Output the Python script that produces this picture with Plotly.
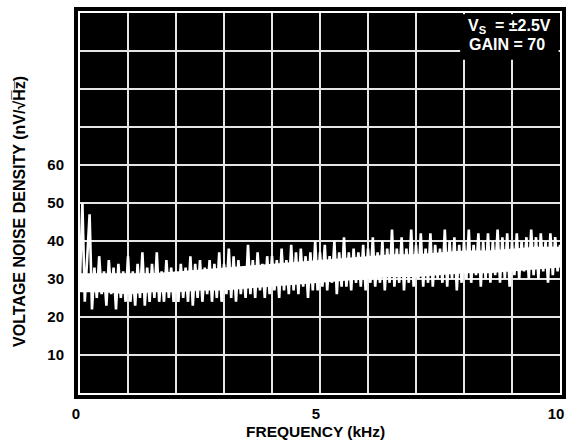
import plotly.graph_objects as go

# ---- data ----
# noise trace sampled every 0.05 kHz (0 .. 10 kHz), values in nV/sqrt(Hz)
noise_nv = [
    30, 50, 24, 35, 47, 22, 33, 25, 36, 26,
    32, 23, 35, 26, 33, 22, 34, 25, 32, 24,
    36, 24, 32, 23, 34, 25, 37, 23, 33, 24,
    34, 25, 37, 24, 32, 24, 35, 25, 33, 24,
    32, 24, 34, 25, 33, 24, 36, 23, 34, 25,
    35, 24, 33, 26, 35, 24, 34, 25, 37, 24,
    34, 26, 38, 25, 36, 24, 35, 26, 33, 25,
    39, 26, 35, 25, 37, 27, 34, 25, 36, 26,
    36, 27, 35, 25, 38, 27, 35, 26, 39, 27,
    37, 26, 38, 28, 36, 25, 37, 27, 40, 27,
    37, 28, 39, 27, 36, 29, 40, 26, 37, 28,
    41, 28, 37, 27, 38, 29, 37, 28, 39, 27,
    38, 29, 41, 28, 37, 29, 40, 27, 38, 29,
    43, 28, 38, 29, 41, 27, 38, 29, 43, 28,
    39, 30, 42, 28, 38, 29, 42, 28, 39, 30,
    38, 29, 43, 28, 40, 30, 41, 27, 39, 29,
    40, 30, 43, 29, 39, 31, 42, 28, 40, 30,
    42, 29, 40, 31, 43, 29, 41, 30, 42, 28,
    40, 31, 42, 30, 40, 32, 41, 30, 43, 31,
    41, 30, 42, 32, 40, 29, 42, 31, 41, 32,
    39,
]
freq_khz = [round(i * 0.05, 2) for i in range(len(noise_nv))]

# solid core of the noise band (0.5 kHz steps)
core_freq = [0, 0.5, 1, 1.5, 2, 2.5, 3, 3.5, 4, 4.5, 5,
             5.5, 6, 6.5, 7, 7.5, 8, 8.5, 9, 9.5, 10]
core_lo = [26.5, 26.5, 26, 26.5, 26.5, 27, 27, 27.5, 28, 28.5, 29,
           29.5, 30, 30.5, 30.5, 31, 31.5, 31.5, 32, 32.5, 33]
core_hi = [31.5, 31.5, 31.5, 31.5, 32, 32.5, 33, 33.5, 34, 34.5, 35,
           35.5, 36, 36.5, 36.5, 37, 37.5, 37.5, 38, 38.5, 38.5]

x_labels = [0, 5, 10]
y_labels = [10, 20, 30, 40, 50, 60]
x_grid_step = 1
y_grid_step = 10

FONT = "Liberation Sans, Arial, Helvetica, sans-serif"
W, H = 582, 443
ML, MR, MT, MB = 80, 22, 11, 50
PW, PH = W - ML - MR, H - MT - MB

fig = go.Figure()
fig.add_trace(go.Scatter(x=core_freq, y=core_lo, mode="lines",
                         line=dict(color="white", width=0), hoverinfo="skip",
                         showlegend=False))
fig.add_trace(go.Scatter(x=core_freq, y=core_hi, mode="lines",
                         line=dict(color="white", width=0), fill="tonexty",
                         fillcolor="white", hoverinfo="skip", showlegend=False))
fig.add_trace(go.Scatter(x=freq_khz, y=noise_nv, mode="lines",
                         line=dict(color="white", width=2.6), showlegend=False))

GRID = "#e6e6e6"
axis_common = dict(
    showgrid=True, gridcolor=GRID, gridwidth=1.5,
    showline=True, linecolor="white", linewidth=2, mirror=True,
    zeroline=False, ticks="",
    tickfont=dict(family=FONT, size=15, color="black", weight="bold"),
)

fig.update_layout(
    width=W, height=H,
    margin=dict(l=ML, r=MR, t=MT, b=MB),
    paper_bgcolor="white", plot_bgcolor="black",
    xaxis=dict(range=[0, 10], tickmode="array", tickvals=x_labels,
               ticklabelstandoff=6, ticklabelshift=-4,
               minor=dict(tickmode="linear", tick0=0, dtick=x_grid_step,
                          showgrid=True, gridcolor=GRID, gridwidth=1.5, ticks=""),
               **axis_common),
    yaxis=dict(range=[0, 100], tickmode="array", tickvals=y_labels,
               ticklabelstandoff=11,
               minor=dict(tickmode="linear", tick0=0, dtick=y_grid_step,
                          showgrid=True, gridcolor=GRID, gridwidth=1.5, ticks=""),
               **axis_common),
    shapes=[
        # outer black frame
        dict(type="rect", xref="paper", yref="paper",
             x0=-4 / PW, x1=1 + 4 / PW, y0=-4 / PH, y1=1 + 4 / PH,
             line=dict(color="black", width=4), fillcolor="rgba(0,0,0,0)",
             layer="below"),
        # black box behind the condition text
        dict(type="rect", xref="x", yref="y", x0=7.92, x1=9.97, y0=87.7, y1=99.7,
             line=dict(width=0), fillcolor="black", layer="above"),
    ],
    annotations=[
        dict(text="V<sub>S</sub>  = ±2.5V", xref="paper", yref="paper",
             x=(466 - ML) / PW, y=1 - (25 - MT) / PH, xanchor="left",
             yanchor="middle", align="left", showarrow=False,
             font=dict(family=FONT, size=16, color="white", weight="bold")),
        dict(text="GAIN = 70", xref="paper", yref="paper",
             x=(467 - ML) / PW, y=1 - (43 - MT) / PH, xanchor="left",
             yanchor="middle", align="left", showarrow=False,
             font=dict(family=FONT, size=16, color="white", weight="bold")),
        dict(text="FREQUENCY (kHz)", xref="paper", yref="paper",
             x=(315 - ML) / PW, y=-(432 - (H - MB)) / PH, xanchor="center",
             yanchor="middle", showarrow=False,
             font=dict(family=FONT, size=15.5, color="black", weight="bold")),
        dict(text="VOLTAGE NOISE DENSITY (nV/√H̅z̅)", xref="paper", yref="paper",
             x=-(ML - 20) / PW, y=(H - MB - 211) / PH, xanchor="center",
             yanchor="middle", textangle=-90, showarrow=False,
             font=dict(family=FONT, size=16, color="black", weight="bold")),
    ],
)

fig.write_html("out.html", config={"displayModeBar": False},
               post_script="document.body.style.margin='0';"
                           "document.body.style.padding='0';")
